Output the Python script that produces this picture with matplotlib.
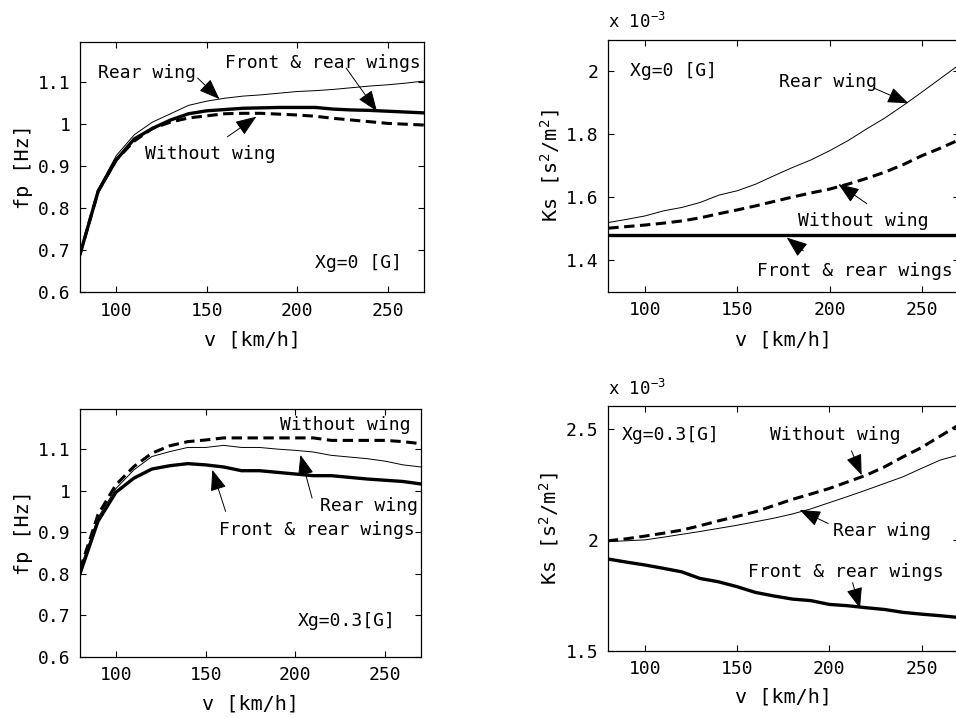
import matplotlib
matplotlib.use('Agg')
import matplotlib.pyplot as plt

plt.rcParams['font.family'] = ['DejaVu Sans Mono']
plt.rcParams['mathtext.fontset'] = 'custom'
plt.rcParams['mathtext.rm'] = 'DejaVu Sans Mono'
plt.rcParams['mathtext.it'] = 'DejaVu Sans Mono'
plt.rcParams['mathtext.default'] = 'rm'

# vehicle speed [km/h]
v = [80, 90, 100, 110, 120, 130, 140, 150, 160, 170, 180, 190, 200,
     210, 220, 230, 240, 250, 260, 270]

# pitching natural frequency fp [Hz], Xg = 0 [G]
fp0_without = [0.69, 0.84, 0.915, 0.96, 0.99, 1.005, 1.015, 1.02, 1.025, 1.026, 1.026, 1.024, 1.022,
               1.019, 1.014, 1.010, 1.006, 1.002, 1.0, 0.998]
fp0_rear = [0.69, 0.845, 0.925, 0.975, 1.005, 1.025, 1.045, 1.055, 1.062, 1.067, 1.070, 1.074, 1.078,
            1.080, 1.083, 1.087, 1.091, 1.094, 1.098, 1.103]
fp0_front_rear = [0.69, 0.84, 0.915, 0.965, 0.99, 1.01, 1.025, 1.032, 1.035, 1.038, 1.039, 1.040, 1.040,
                  1.040, 1.036, 1.034, 1.033, 1.031, 1.029, 1.027]

# pitching natural frequency fp [Hz], Xg = 0.3 [G]
fp3_without = [0.81, 0.942, 1.014, 1.058, 1.09, 1.108, 1.118, 1.122, 1.127, 1.127, 1.127, 1.127, 1.127,
               1.127, 1.121, 1.121, 1.121, 1.121, 1.118, 1.113]
fp3_rear = [0.81, 0.935, 1.005, 1.05, 1.082, 1.094, 1.104, 1.104, 1.109, 1.104, 1.104, 1.100, 1.097,
            1.093, 1.085, 1.081, 1.077, 1.071, 1.062, 1.057]
fp3_front_rear = [0.80, 0.926, 0.996, 1.03, 1.052, 1.06, 1.065, 1.062, 1.057, 1.048, 1.048, 1.044, 1.04,
                  1.036, 1.036, 1.032, 1.028, 1.025, 1.022, 1.016]

# stability factor Ks [x1e-3 s^2/m^2], Xg = 0 [G]
ks0_without = [1.502, 1.507, 1.512, 1.518, 1.525, 1.535, 1.548, 1.56, 1.573, 1.587, 1.601, 1.614, 1.626,
               1.642, 1.660, 1.680, 1.704, 1.732, 1.756, 1.782]
ks0_rear = [1.52, 1.53, 1.541, 1.557, 1.568, 1.584, 1.607, 1.621, 1.642, 1.669, 1.695, 1.719, 1.748,
            1.78, 1.817, 1.852, 1.892, 1.934, 1.977, 2.02]
ks0_front_rear = [1.48] * 20

# stability factor Ks [x1e-3 s^2/m^2], Xg = 0.3 [G]
ks3_without = [1.996, 2.005, 2.017, 2.030, 2.044, 2.064, 2.086, 2.106, 2.127, 2.155, 2.183, 2.207, 2.232,
               2.262, 2.292, 2.330, 2.375, 2.417, 2.468, 2.518]
ks3_rear = [1.992, 1.996, 2.0, 2.012, 2.025, 2.038, 2.052, 2.066, 2.082, 2.098, 2.117, 2.140, 2.168,
            2.196, 2.225, 2.255, 2.285, 2.323, 2.36, 2.383]
ks3_front_rear = [1.914, 1.900, 1.887, 1.872, 1.856, 1.826, 1.811, 1.789, 1.763, 1.747, 1.733, 1.726, 1.709,
                  1.703, 1.694, 1.686, 1.673, 1.665, 1.658, 1.650]

fig = plt.figure(figsize=(9.56, 7.18), dpi=100)

ax1 = fig.add_axes([0.0837, 0.5933, 0.3598, 0.3482])
ax2 = fig.add_axes([0.6363, 0.5937, 0.3664, 0.3506])
ax3 = fig.add_axes([0.0837, 0.0854, 0.3567, 0.3446])
ax4 = fig.add_axes([0.6357, 0.0937, 0.3670, 0.3408])


def draw(ax, without, rear, front_rear):
    ax.plot(v, rear, color='black', lw=0.7)
    ax.plot(v, without, color='black', lw=2.2, dashes=(3.4, 1.8))
    ax.plot(v, front_rear, color='black', lw=2.4)
    ax.set_xlim(80, 270)
    ax.set_xticks([100, 150, 200, 250])
    ax.tick_params(direction='in', top=True, right=True, length=4, width=0.8,
                   labelsize=13, pad=7)
    for s in ax.spines.values():
        s.set_linewidth(0.9)
    ax.set_xlabel('v [km/h]', fontsize=14.5)
    ax.xaxis.set_label_coords(0.5, -0.19)
    ax.xaxis.label.set_va('center')


def ylabel(ax, text, x):
    ax.set_ylabel(text, fontsize=14.5)
    ax.yaxis.set_label_coords(x, 0.5)
    ax.yaxis.label.set_va('center')


def note(ax, text, pos):
    ax.text(pos[0], pos[1], text, fontsize=13, ha='left', va='center')


def arrow(ax, tail, tip):
    ax.annotate('', xy=tip, xytext=tail,
                arrowprops=dict(arrowstyle='-|>,head_length=1.3,head_width=0.5',
                                color='black', lw=0.7, shrinkA=0, shrinkB=0,
                                mutation_scale=10))


# fp, Xg=0
draw(ax1, fp0_without, fp0_rear, fp0_front_rear)
ax1.set_ylim(0.6, 1.196)
ax1.set_yticks([0.6, 0.7, 0.8, 0.9, 1.0, 1.1])
ax1.set_yticklabels(['0.6', '0.7', '0.8', '0.9', '1', '1.1'])
ylabel(ax1, 'fp [Hz]', -0.163)
note(ax1, 'Rear wing', (89.7, 1.122))
arrow(ax1, (145, 1.11), (157, 1.06))
note(ax1, 'Front & rear wings', (160.3, 1.146))
arrow(ax1, (227, 1.134), (244, 1.031))
note(ax1, 'Without wing', (115.8, 0.93))
arrow(ax1, (161.4, 0.97), (177.4, 1.018))
note(ax1, 'Xg=0 [G]', (209.6, 0.67))

# Ks, Xg=0
draw(ax2, ks0_without, ks0_rear, ks0_front_rear)
ax2.set_ylim(1.3, 2.1)
ax2.set_yticks([1.4, 1.6, 1.8, 2.0])
ax2.set_yticklabels(['1.4', '1.6', '1.8', '2'])
ylabel(ax2, 'Ks [s$^2$/m$^2$]', -0.166)
ax2.text(0.0, 1.03, 'x 10$^{-3}$', transform=ax2.transAxes, fontsize=12.5,
         ha='left', va='bottom')
note(ax2, 'Xg=0 [G]', (91.5, 2.0))
note(ax2, 'Rear wing', (172.8, 1.968))
arrow(ax2, (223.8, 1.948), (242.8, 1.899))
note(ax2, 'Without wing', (183, 1.525))
arrow(ax2, (220.2, 1.58), (204.8, 1.642))
note(ax2, 'Front & rear wings', (160.5, 1.366))
arrow(ax2, (185.8, 1.43), (176.8, 1.472))

# fp, Xg=0.3
draw(ax3, fp3_without, fp3_rear, fp3_front_rear)
ax3.set_ylim(0.6, 1.196)
ax3.set_yticks([0.6, 0.7, 0.8, 0.9, 1.0, 1.1])
ax3.set_yticklabels(['0.6', '0.7', '0.8', '0.9', '1', '1.1'])
ylabel(ax3, 'fp [Hz]', -0.166)
note(ax3, 'Without wing', (191.7, 1.159))
note(ax3, 'Rear wing', (213.5, 0.962))
arrow(ax3, (209.3, 0.982), (202.8, 1.086))
note(ax3, 'Front & rear wings', (157.4, 0.904))
arrow(ax3, (161.1, 0.95), (153.7, 1.05))
note(ax3, 'Xg=0.3[G]', (201.5, 0.687))

# Ks, Xg=0.3
draw(ax4, ks3_without, ks3_rear, ks3_front_rear)
ax4.set_ylim(1.5, 2.604)
ax4.set_yticks([1.5, 2.0, 2.5])
ax4.set_yticklabels(['1.5', '2', '2.5'])
ylabel(ax4, 'Ks [s$^2$/m$^2$]', -0.166)
ax4.text(0.0, 1.03, 'x 10$^{-3}$', transform=ax4.transAxes, fontsize=12.5,
         ha='left', va='bottom')
note(ax4, 'Xg=0.3[G]', (87.9, 2.473))
note(ax4, 'Without wing', (167.8, 2.473))
arrow(ax4, (212, 2.402), (217.5, 2.292))
note(ax4, 'Rear wing', (201.8, 2.041))
arrow(ax4, (199.4, 2.074), (184, 2.135))
note(ax4, 'Front & rear wings', (156, 1.853))
arrow(ax4, (212.6, 1.807), (216.6, 1.691))

fig.savefig('out.png', dpi=100)
